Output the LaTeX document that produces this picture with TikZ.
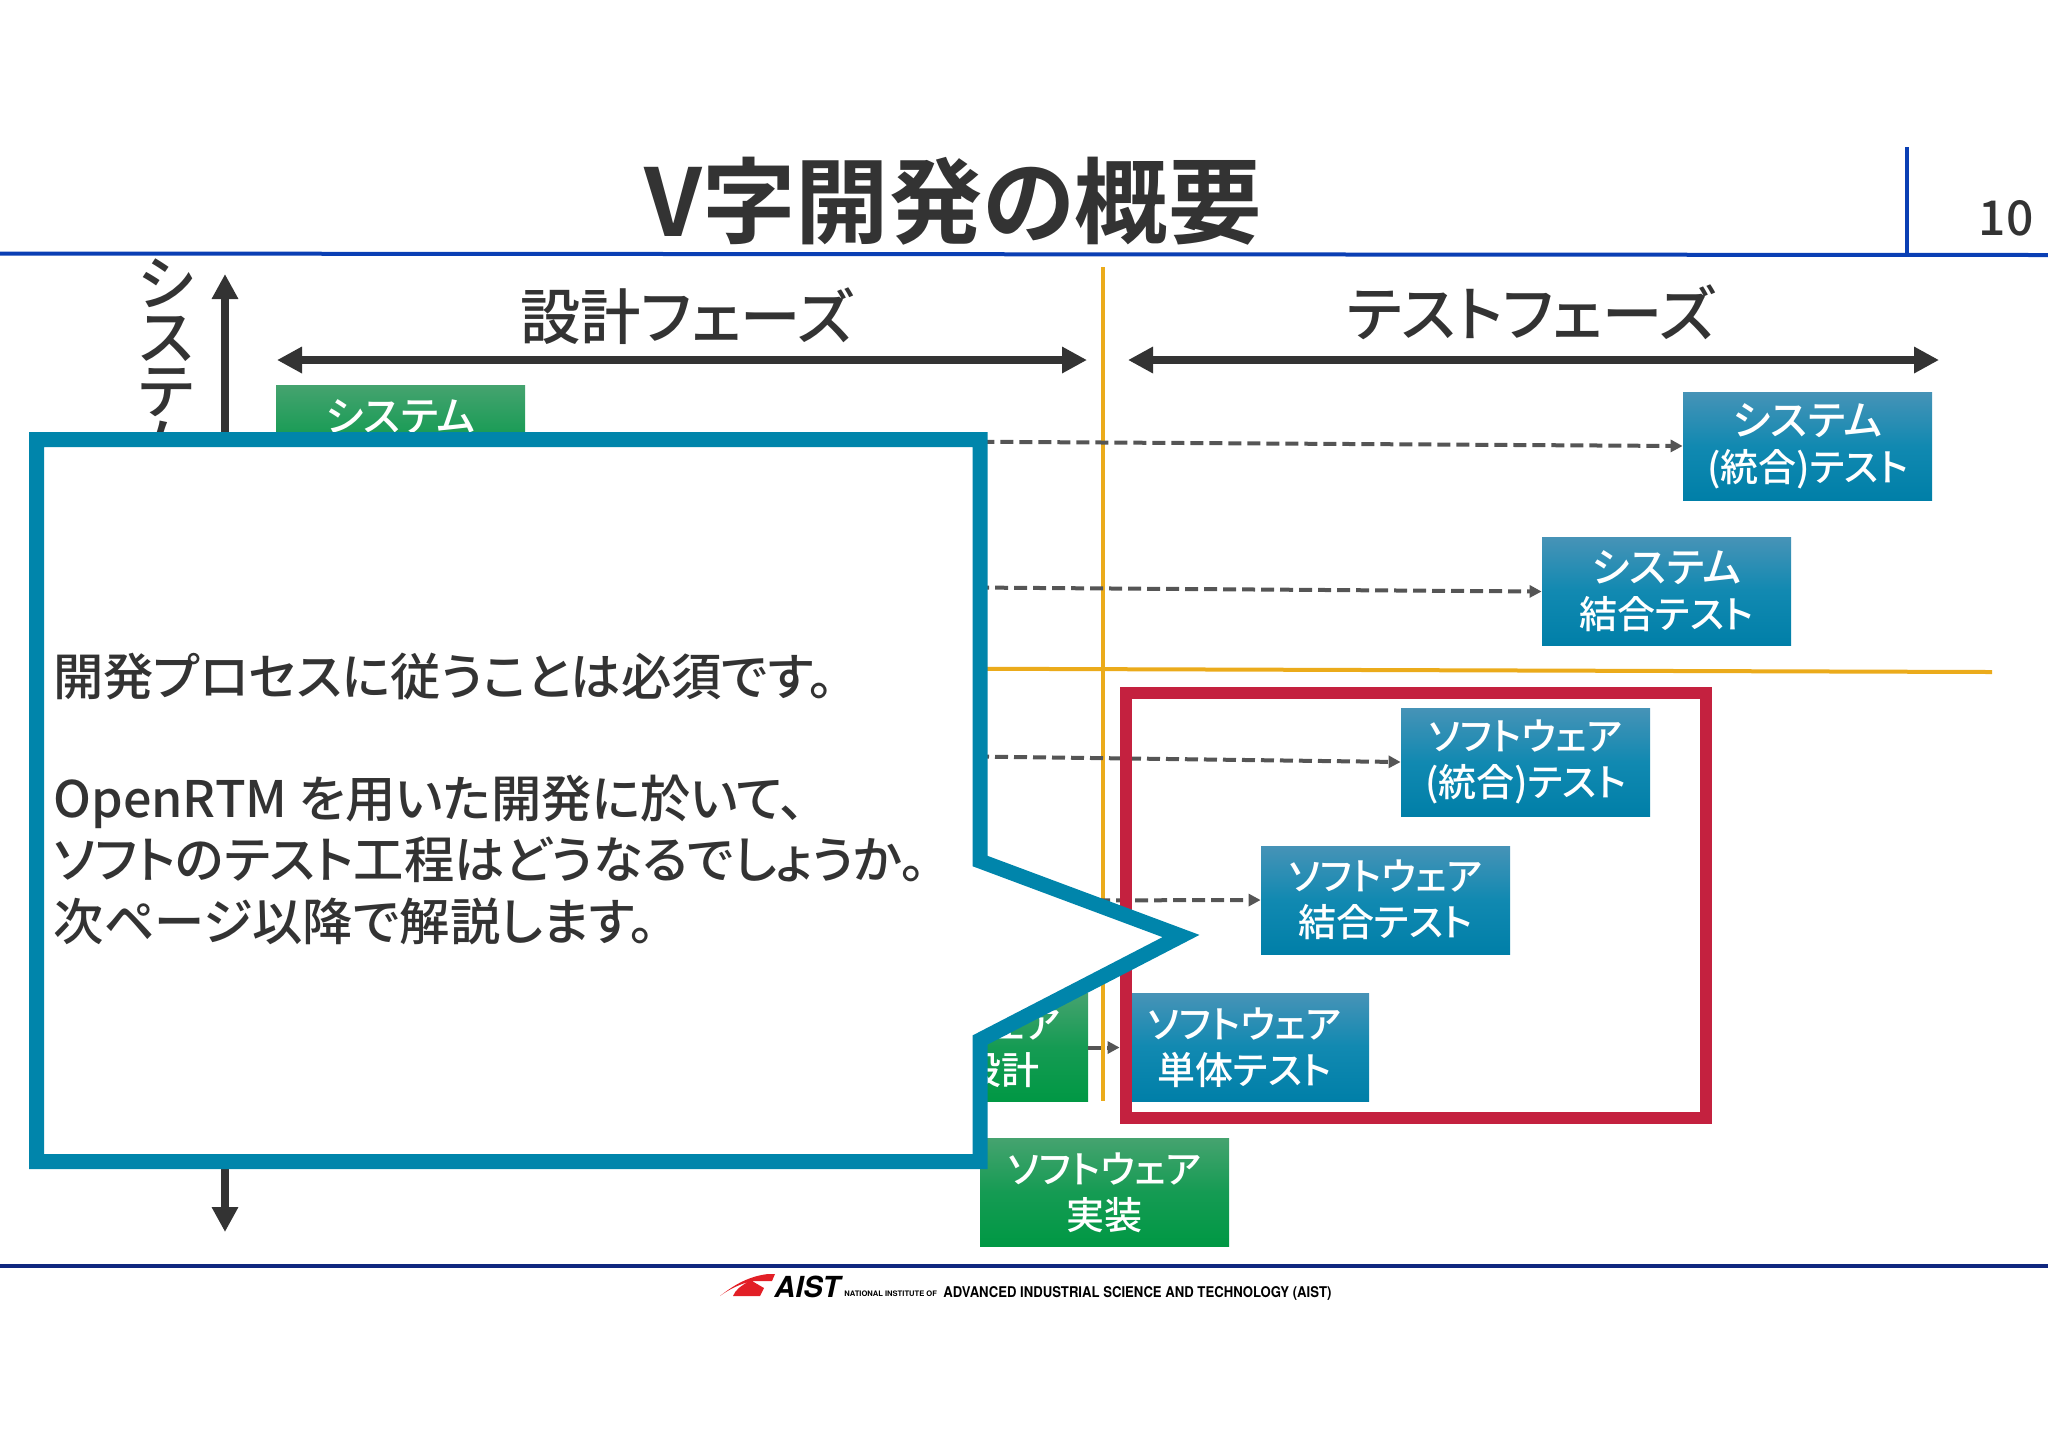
\documentclass[tikz,border=0pt]{standalone}
\usepackage{fontspec}
\usepackage{graphicx}
\usetikzlibrary{arrows.meta}
\newfontfamily\jp[RawFeature=+palt,BoldFont={Noto Sans CJK JP Bold}]{Noto Sans CJK JP Medium}
\newfontfamily\hv{TeX Gyre Heros}
\newcommand{\syslabel}{{\fontsize{20.5}{23}\selectfont システム}}
\definecolor{ink}{HTML}{333333}
\definecolor{rule}{HTML}{0A3FB4}
\definecolor{navy}{HTML}{10277F}
\definecolor{teal}{HTML}{0085AB}
\definecolor{crim}{HTML}{C4213F}
\definecolor{amber}{HTML}{EBAB1B}
\definecolor{arrowgray}{HTML}{555555}
\definecolor{aistred}{HTML}{E21F26}
\definecolor{grnT}{HTML}{45A36F}
\definecolor{grnM}{HTML}{159B53}
\definecolor{grnB}{HTML}{009844}
\definecolor{bluT}{HTML}{4693B7}
\definecolor{bluM}{HTML}{1189B1}
\definecolor{bluB}{HTML}{007FA8}
\tikzset{
  basebox/.style={rectangle,minimum width=124.5pt,minimum height=54pt,inner sep=0pt,text=white,align=center,
    font=\jp\fontsize{19}{23}\selectfont},
  grnbox/.style={basebox,top color=grnT,bottom color=grnB,middle color=grnM},
  blubox/.style={basebox,top color=bluT,bottom color=bluB,middle color=bluM},
  phase/.style={line width=4pt,draw=ink,{Triangle[length=12.5pt,width=12.5pt]}-{Triangle[length=12.5pt,width=12.5pt]}},
  link/.style={line width=2pt,draw=arrowgray,dash pattern=on 6.5pt off 3pt,-{Triangle[length=6pt,width=6pt]}},
  phasetext/.style={text=ink,inner sep=0pt,font=\jp\fontsize{30.2}{33}\selectfont},
  bubbletext/.style={text=ink,inner sep=0pt,anchor=west,font=\jp\fontsize{25.15}{30}\selectfont},
}
\begin{document}
\begin{tikzpicture}[x=0.5pt,y=-0.5pt]
\useasboundingbox (0,0) rectangle (2048,1448);
% page frame
\draw[rule,line width=2pt] (0,253.5) -- (2048,255);
\draw[rule,line width=2pt] (1907,147) -- (1907,255);
\draw[navy,line width=2pt] (0,1265.5) -- (2048,1265.5);
\node[text=ink,inner sep=0pt,font=\jp\bfseries\fontsize{46.7}{50}\selectfont] (title) at (953,201) {V字開発の概要};
\node[text=ink,inner sep=0pt,font=\jp\fontsize{24}{26}\selectfont] (pageno) at (2006,218) {10};
% yellow lines
\draw[amber,line width=2.1pt] (1103,267) -- (1103,1101);
\draw[amber,line width=2pt] (900,668.5) -- (1992,672);
% axis and phases
\coordinate (axisT) at (225,274);
\coordinate (axisB) at (225,1232);
\draw[phase] (axisB) -- (axisT);
\node[text=ink,inner sep=0pt,align=center,font=\jp\fontsize{30}{27}\selectfont,anchor=north] (axislabel) at (166,258) {シ\\ス\\テ\\ム};
\coordinate (dL) at (277,360);
\coordinate (dR) at (1087,360);
\coordinate (tL) at (1128,360);
\coordinate (tR) at (1939,360);
\draw[phase] (dL) -- (dR);
\draw[phase] (tL) -- (tR);
\node[phasetext] (design) at (687,316) {設計フェーズ};
\node[phasetext] (testp) at (1531,312) {テストフェーズ};
% boxes
\node[grnbox] (gsys) at (400.5,439) {\syslabel\\\mbox{}};
\node[grnbox] (gdet) at (963.5,1047.5) {ソフトウェア\\詳細設計};
\node[grnbox] (gimp) at (1104.5,1192.5) {ソフトウェア\\実装};
\node[blubox] (bsys) at (1807.5,446) {\syslabel\\(統合)テスト};
\node[blubox] (bjoin) at (1666.5,591.5) {\syslabel\\結合テスト};
\node[blubox] (bsint) at (1525.5,762) {ソフトウェア\\(統合)テスト};
\node[blubox] (bsjoin) at (1385.5,900) {ソフトウェア\\結合テスト};
\node[blubox] (bunit) at (1244.5,1047.5) {ソフトウェア\\単体テスト};
% links
\coordinate (o2) at (900,587);
\coordinate (o3) at (900,755.5);
\coordinate (o4) at (1040,900.5);
\draw[link] (gsys.east) -- (bsys.west);
\draw[link] (o2) -- (bjoin.west);
\draw[link] (o3) -- (bsint.west);
\draw[link] (o4) -- (bsjoin.west);
\draw[link] (gdet.east) -- (bunit.west);
% red frame
\draw[crim,line width=6pt] (1125.5,693) rectangle (1706,1118);
% callout
\draw[teal,line width=7.5pt,miter limit=10,fill=white,line join=miter]
  (36.5,439.5) -- (980,439.5) -- (980,861) -- (1181,936) -- (980,1040) -- (980,1161.5) -- (36.5,1161.5) -- cycle;
\node[bubbletext] (c1) at (53,676) {開発プロセスに従うことは必須です。};
\node[bubbletext] (c2) at (53,802) {OpenRTM を用いた開発に於いて、};
\node[bubbletext] (c3) at (53,860) {ソフトのテスト工程はどうなるでしょうか。};
\node[bubbletext] (c4) at (53,921.5) {次ページ以降で解説します。};
% footer
\fill[aistred] (720,1296) .. controls (735,1284) and (750,1276) .. (768,1274) -- (775,1274) -- (772,1281) -- (752,1281) -- (764,1288) -- (760,1296) -- (733,1296) .. controls (735,1290) and (742,1285) .. (748,1282) .. controls (738,1285) and (728,1290) .. (720,1296) -- cycle;
\node[inner sep=0pt,anchor=west,font=\hv\bfseries\itshape\fontsize{14.5}{16}\selectfont] (aist) at (774,1287) {AIST};
\node[inner sep=0pt,anchor=west,font=\hv\bfseries\fontsize{3.8}{4}\selectfont] (nat) at (844,1294) {NATIONAL INSTITUTE OF};
\node[inner sep=0pt,anchor=west,font=\hv\bfseries\fontsize{7.4}{8}\selectfont] (adv) at (943,1293) {\scalebox{0.887}[1]{ADVANCED INDUSTRIAL SCIENCE AND TECHNOLOGY (AIST)}};
\end{tikzpicture}
\end{document}
